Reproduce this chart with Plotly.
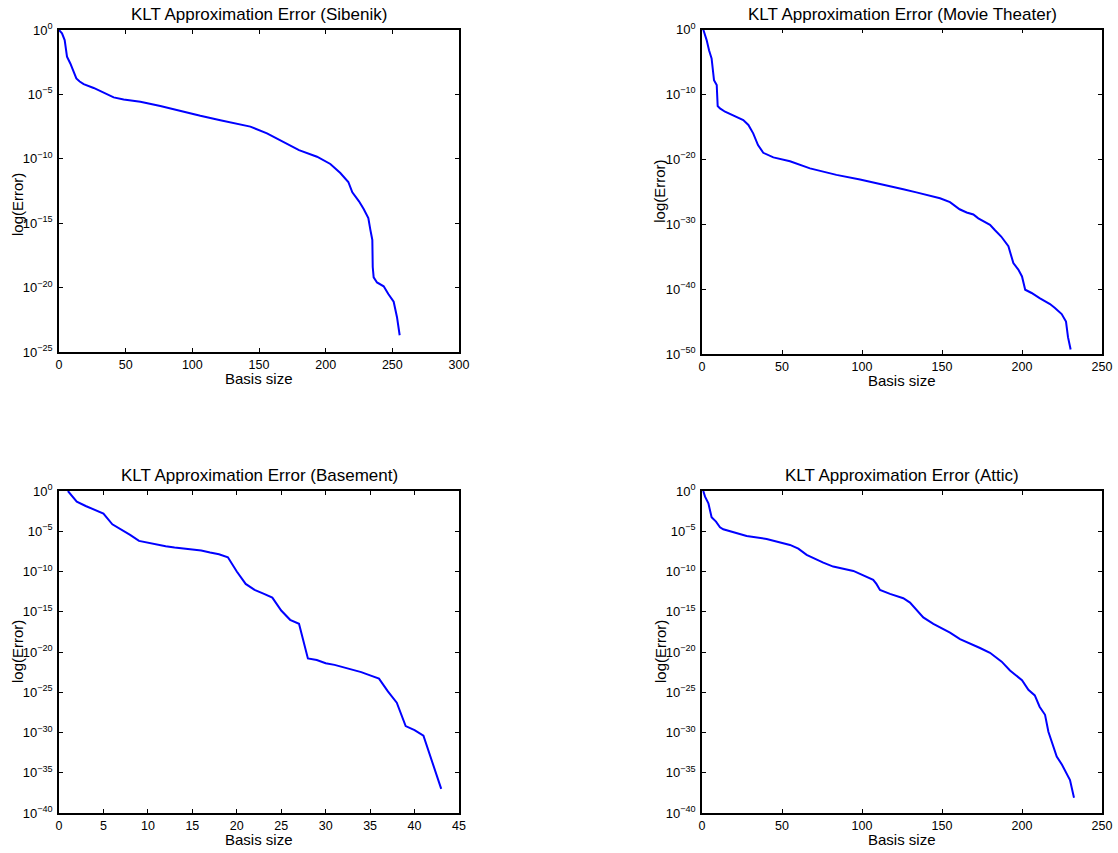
import plotly.graph_objects as go

# ---- data (y values are log10 of the error) ----
sibenik_x = [0, 2.25, 4.25, 6, 8.5, 11, 13, 15.5, 18.5, 26, 36, 41, 48.5, 61, 76, 91, 106, 121, 136,
             143.5, 156, 168.5, 180, 193.5, 203.5, 211, 217, 220, 225, 228.5, 232, 233.5, 235, 235.3,
             236, 238.5, 243.5, 247, 251, 253.5, 255.5]
sibenik_log_err = [0, -0.26, -0.78, -2.07, -2.6, -3.24, -3.76, -4.0, -4.2, -4.5, -5.0, -5.23, -5.39,
                   -5.57, -5.9, -6.3, -6.66, -7.0, -7.3, -7.5, -8.03, -8.68, -9.33, -9.84, -10.4,
                   -11.1, -11.8, -12.6, -13.3, -13.9, -14.6, -15.5, -16.3, -18.4, -19.2, -19.6,
                   -19.9, -20.5, -21.1, -22.3, -23.7]

movie_x = [0.8, 2.9, 4.4, 6, 7.5, 9.2, 9.8, 11.25, 14.4, 19.6, 25.8, 29, 32, 35, 38.3, 44.6, 55, 67.5,
           84, 98.75, 113, 125.8, 134, 148.75, 155, 161, 165.4, 169.6, 172.7, 180, 183, 187, 191.5,
           194.6, 197.7, 200, 202, 206, 211, 217.5, 220.6, 224.8, 227.5, 228.75, 230.4]
movie_log_err = [0, -1.64, -3.2, -4.46, -7.8, -8.56, -11.8, -12.15, -12.67, -13.2, -13.95, -14.7,
                 -16.0, -17.8, -19.0, -19.7, -20.3, -21.4, -22.4, -23.1, -23.85, -24.6, -25.1, -26.0,
                 -26.6, -27.7, -28.2, -28.5, -29.1, -30.1, -30.9, -31.9, -33.4, -36.0, -37.0, -38.05,
                 -40.1, -40.6, -41.4, -42.3, -42.9, -43.85, -45.0, -47.4, -49.3]

basement_x = list(range(1, 44))
basement_log_err = [0, -1.32, -1.86, -2.36, -2.81, -4.14, -4.76, -5.46, -6.2, -6.45, -6.66, -6.87,
                    -7.03, -7.16, -7.32, -7.4, -7.65, -7.86, -8.23, -10.0, -11.54, -12.29, -12.74,
                    -13.24, -14.85, -16.0, -16.5, -20.8, -21.0, -21.4, -21.6, -21.9, -22.2, -22.5,
                    -22.9, -23.3, -24.9, -26.3, -29.2, -29.7, -30.4, -33.8, -37.0]

attic_x = [0.8, 1.9, 4, 6, 8.75, 11.25, 13.3, 19.6, 27.9, 40.4, 48.75, 55, 60.2, 65.4, 75.8, 82, 94.6,
           98.75, 107, 109, 111.25, 117.5, 125.8, 130, 134, 138.3, 144.6, 155, 161.25, 167.5, 173.75,
           180, 187.3, 192.5, 200, 204, 208, 211, 214.4, 216.5, 218.5, 221.7, 225, 230, 232.5]
attic_log_err = [0, -0.7, -1.53, -3.27, -3.8, -4.5, -4.76, -5.13, -5.58, -5.96, -6.37, -6.7, -7.16,
                 -7.94, -8.89, -9.39, -9.93, -10.3, -11.04, -11.54, -12.29, -12.78, -13.32, -13.86,
                 -14.77, -15.7, -16.5, -17.6, -18.4, -18.9, -19.5, -20.1, -21.2, -22.3, -23.5, -24.7,
                 -25.4, -26.8, -27.8, -29.9, -31.1, -33.0, -34.0, -35.9, -38.1]

titles = ["KLT Approximation Error (Sibenik)", "KLT Approximation Error (Movie Theater)",
          "KLT Approximation Error (Basement)", "KLT Approximation Error (Attic)"]
x_ranges = [[0, 300], [0, 250], [0, 45], [0, 250]]
x_dticks = [50, 50, 5, 50]
y_min_exp = [-25, -50, -40, -40]
y_exp_step = [5, 10, 5, 5]

series = [(sibenik_x, sibenik_log_err), (movie_x, movie_log_err),
          (basement_x, basement_log_err), (attic_x, attic_log_err)]

# ---- layout geometry (window pixels) ----
W, H = 1118, 853
boxes = [  # left, right, top, bottom in px
    (59, 459, 30, 352),
    (702, 1102, 29.5, 354),
    (59, 459, 491, 813),
    (702, 1102, 491, 813),
]

FONT = "Liberation Sans, Arial, Helvetica, sans-serif"

def sup_label(e):
    if e == 0:
        return "10<sup>0</sup>"
    return "10<sup>\u2212%d</sup>" % (-e)

def px(v):
    return v / W

def py(v):
    return 1 - v / H

fig = go.Figure()
layout = dict(
    width=W, height=H, margin=dict(l=0, r=0, t=0, b=0, autoexpand=False),
    paper_bgcolor="white", plot_bgcolor="white", showlegend=False,
    font=dict(family=FONT, size=12, color="black"),
)
annotations = []

for i, ((xs, ys), box) in enumerate(zip(series, boxes)):
    n = i + 1
    xa = "xaxis" if n == 1 else "xaxis%d" % n
    ya = "yaxis" if n == 1 else "yaxis%d" % n
    xref = "x" if n == 1 else "x%d" % n
    yref = "y" if n == 1 else "y%d" % n
    fig.add_trace(go.Scatter(x=xs, y=[10 ** v for v in ys], mode="lines",
                             line=dict(color="#0000FF", width=2),
                             xaxis=xref, yaxis=yref, hoverinfo="skip"))
    l, r, t, b = box
    exps = list(range(0, y_min_exp[i] - 1, -y_exp_step[i]))
    common = dict(showline=True, linecolor="black", linewidth=1.5, mirror="ticks",
                  ticks="inside", ticklen=4, tickwidth=1, tickcolor="black", automargin=False,
                  showgrid=False, zeroline=False)
    layout[xa] = dict(domain=[px(l), px(r)], range=x_ranges[i], dtick=x_dticks[i], tick0=0,
                      anchor=yref, tickfont=dict(family=FONT, size=12.5, color="black"), **common)
    layout[ya] = dict(domain=[py(b), py(t)], type="log", range=[y_min_exp[i], 0],
                      tickvals=[10 ** e for e in exps], ticktext=[sup_label(e) for e in exps],
                      anchor=xref, ticklabelstandoff=2,
                      tickfont=dict(family=FONT, size=13, color="black"), **common)
    cx = (l + r) / 2
    # title
    annotations.append(dict(text=titles[i], x=px(cx), y=py(t - 15), xref="paper", yref="paper",
                            showarrow=False, xanchor="center", yanchor="middle",
                            font=dict(family=FONT, size=17, color="black")))
    # x label
    annotations.append(dict(text="Basis size", x=px(cx), y=py(b + 26), xref="paper", yref="paper",
                            showarrow=False, xanchor="center", yanchor="middle",
                            font=dict(family=FONT, size=15, color="black")))
    # y label
    ly = 205 if i == 0 else (t + b) / 2
    annotations.append(dict(text="log(Error)", x=px(l - 42), y=py(ly), xref="paper", yref="paper",
                            showarrow=False, xanchor="center", yanchor="middle", textangle=-90,
                            font=dict(family=FONT, size=15, color="black")))

layout["annotations"] = annotations
fig.update_layout(**layout)
fig.write_html("out.html", config={"displayModeBar": False},
               post_script="document.body.style.margin='0';document.body.style.overflow='hidden';")
